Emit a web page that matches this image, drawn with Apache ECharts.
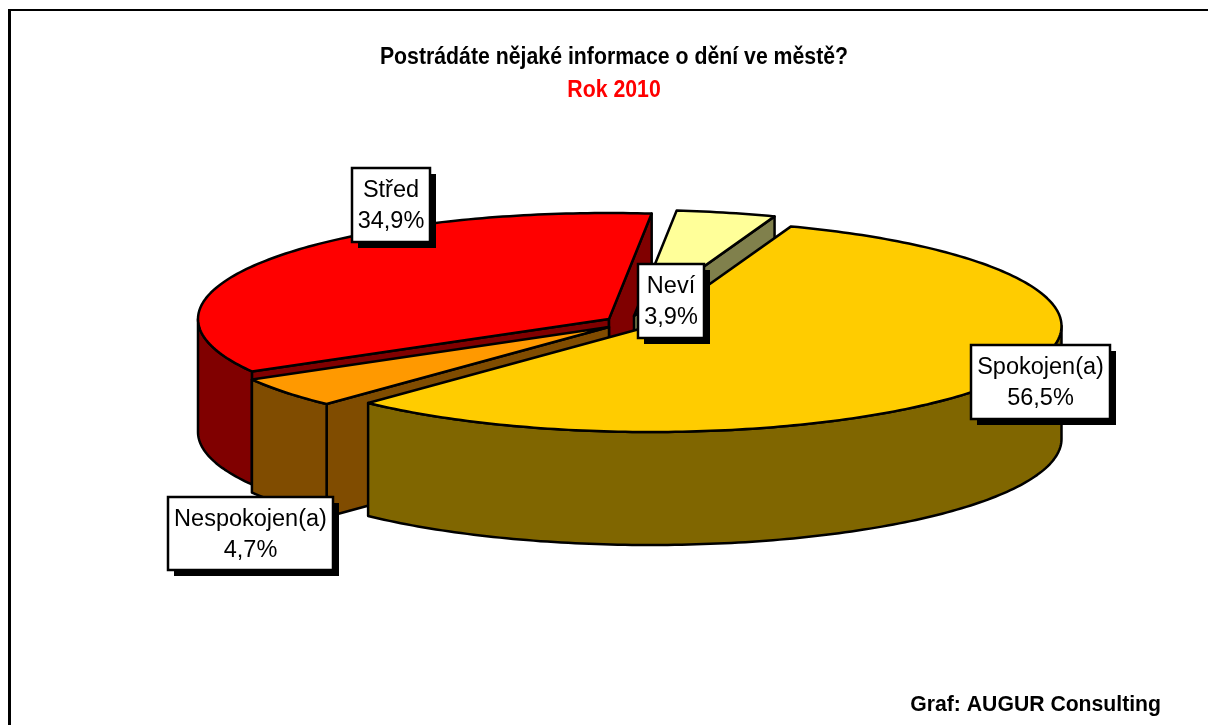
<!DOCTYPE html>
<html>
<head>
<meta charset="utf-8">
<style>
  html, body { margin: 0; padding: 0; background: #fff; }
  #main { width: 1208px; height: 725px; }
</style>
<script src="https://cdn.jsdelivr.net/npm/echarts@6/dist/echarts.min.js"></script>
</head>
<body>
<div id="main"></div>
<script>
// data, clockwise from the first slice
var categories = ["Spokojen(a)", "Nespokojen(a)", "Střed", "Neví"];
var values = [56.5, 4.7, 34.9, 3.9];
var topColors = ["#FFCC00", "#FF9900", "#FF0000", "#FFFF99"];
var sideColors = ["#806600", "#804C00", "#800000", "#80804C"];

// look of the fake 3D pie
var startAngle = 20;
var rx = 411, ry = 106, depth = 113;
var sliceCenters = [[650.5, 326], [609, 327], [609, 319], [634, 316]];
var labelBoxes = [[971, 345, 139, 74], [168, 497, 165, 73], [352, 168, 78, 74], [638, 264, 66, 74]];
var paintOrder = [2, 3, 1, 0]; // back to front

var total = values.reduce(function (a, b) { return a + b; }, 0);
var angles = [];
var acc = startAngle;
values.forEach(function (v) {
  var end = acc + v / total * 360;
  angles.push([acc, end]);
  acc = end;
});

function pt(c, deg, dz) {
  var r = deg * Math.PI / 180;
  return [c[0] + rx * Math.sin(r), c[1] - ry * Math.cos(r) + (dz || 0)];
}

function arc(c, a, b, dz) {
  var pts = [];
  var n = Math.max(2, Math.ceil(Math.abs(b - a)));
  for (var i = 0; i <= n; i++) pts.push(pt(c, a + (b - a) * i / n, dz));
  return pts;
}

function poly(points, fill) {
  return {
    type: "polygon",
    shape: { points: points },
    style: { fill: fill, stroke: "#000", lineWidth: 2.5, lineJoin: "round" },
    silent: true
  };
}

function sinDeg(d) {
  return Math.sin(d * Math.PI / 180);
}

function renderSlice(params, api) {
  var i = api.value(0);
  var c = sliceCenters[i];
  var a = angles[i][0], b = angles[i][1];
  var side = sideColors[i];
  var kids = [];
  var apex = [c[0], c[1]];
  var apexLow = [c[0], c[1] + depth];

  // cut faces, only those turned to the viewer
  if (sinDeg(a) < 0) kids.push(poly([apex, pt(c, a), pt(c, a, depth), apexLow], side));
  if (sinDeg(b) > 0) kids.push(poly([apex, pt(c, b), pt(c, b, depth), apexLow], side));
  // outer wall
  [[90, 270], [450, 630]].forEach(function (w) {
    var from = Math.max(a, w[0]), to = Math.min(b, w[1]);
    if (to > from) {
      kids.push(poly(arc(c, from, to, 0).concat(arc(c, to, from, depth)), side));
    }
  });
  // top
  kids.push(poly([apex].concat(arc(c, a, b, 0)), topColors[i]));
  return { type: "group", children: kids };
}

function renderLabel(params, api) {
  var i = api.value(0);
  var box = labelBoxes[i];
  var x = box[0], y = box[1], w = box[2], h = box[3];
  var cx = x + w / 2;
  var pct = values[i].toFixed(1).replace(".", ",") + "%";
  function line(text, yy) {
    return {
      type: "text",
      silent: true,
      style: {
        x: cx, y: yy, text: text, fill: "#000", align: "center", verticalAlign: "middle",
        font: "23.5px 'Liberation Sans', Arial, sans-serif"
      }
    };
  }
  return {
    type: "group",
    children: [
      { type: "rect", silent: true, shape: { x: x + 6, y: y + 6, width: w, height: h }, style: { fill: "#000" } },
      {
        type: "rect", silent: true, shape: { x: x, y: y, width: w, height: h },
        style: { fill: "#fff", stroke: "#000", lineWidth: 2.5 }
      },
      line(categories[i], y + 23),
      line(pct, y + 54)
    ]
  };
}

var chart = echarts.init(document.getElementById("main"), null, { renderer: "canvas" });
chart.setOption({
  backgroundColor: "#fff",
  animation: false,
  graphic: [
    { type: "line", silent: true, shape: { x1: 9.5, y1: 10, x2: 1208, y2: 10 }, style: { stroke: "#000", lineWidth: 2 } },
    { type: "line", silent: true, shape: { x1: 9.5, y1: 9, x2: 9.5, y2: 725 }, style: { stroke: "#000", lineWidth: 3 } },
    {
      type: "text", x: 614, y: 58, scaleX: 0.925, silent: true,
      style: {
        text: "Postrádáte nějaké informace o dění ve městě?", fill: "#000", align: "center", verticalAlign: "middle",
        font: "bold 23px 'Liberation Sans', Arial, sans-serif"
      }
    },
    {
      type: "text", x: 614, y: 91, scaleX: 0.925, silent: true,
      style: {
        text: "Rok 2010", fill: "#FF0000", align: "center", verticalAlign: "middle",
        font: "bold 23px 'Liberation Sans', Arial, sans-serif"
      }
    },
    {
      type: "text", x: 1161, y: 705, silent: true,
      style: {
        text: "Graf: AUGUR Consulting", fill: "#000", align: "right", verticalAlign: "middle",
        font: "bold 21.2px 'Liberation Sans', Arial, sans-serif"
      }
    }
  ],
  series: [
    {
      type: "custom",
      coordinateSystem: "none",
      renderItem: renderSlice,
      data: paintOrder.map(function (i) { return [i, values[i]]; }),
      z: 2
    },
    {
      type: "custom",
      coordinateSystem: "none",
      renderItem: renderLabel,
      data: paintOrder.map(function (i) { return [i, values[i]]; }),
      z: 3
    }
  ]
});
</script>
</body>
</html>
